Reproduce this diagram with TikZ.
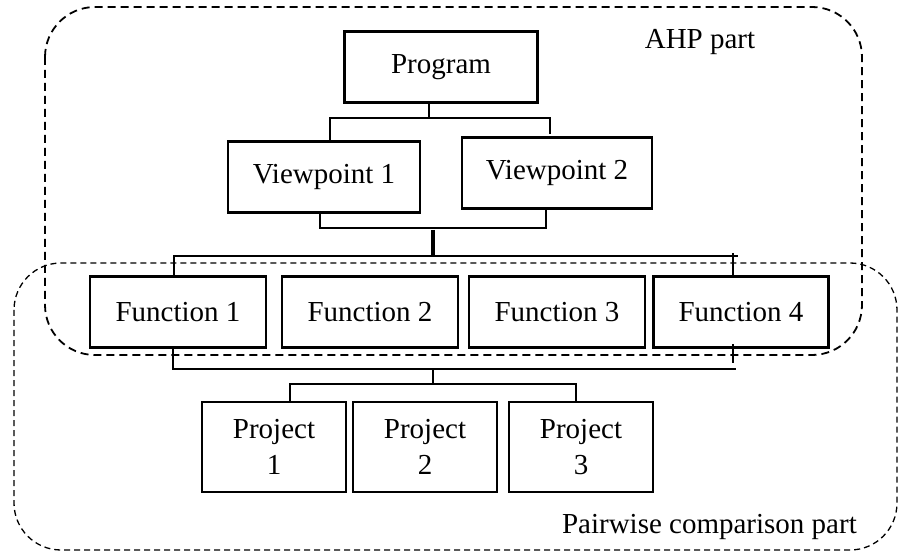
\documentclass[tikz,border=0pt]{standalone}
\usepackage{fontspec}
\setmainfont{Liberation Serif}
\usetikzlibrary{positioning}

\begin{document}
\begin{tikzpicture}[x=1pt,y=-1pt]
   \tikzstyle{box}=[draw,line width=2.6pt,minimum height=71pt,inner sep=0pt,font=\fontsize{29}{36}\selectfont]
   \tikzstyle{proj}=[box,minimum width=144pt,minimum height=90pt,align=center]
   \tikzstyle{ln}=[line width=1.3pt]
   \tikzstyle{bold}=[line width=4pt]
   \tikzstyle{part}=[line width=1.8pt,rounded corners=50pt,dash pattern=on 8pt off 5pt]
   \tikzstyle{lbl}=[inner sep=0pt,font=\fontsize{29}{34}\selectfont]

   \useasboundingbox (0,0) rectangle (911,556);

   % the two parts of the method
   \draw[part] (45,7) rectangle (862,355);
   \draw[part,line width=1.3pt,rounded corners=47pt,dash pattern=on 6pt off 4pt] (14,263) rectangle (897,550);
   \node (ahp) [lbl] at (700,42) {AHP part};
   \node (pw) [lbl,anchor=east] at (857,527) {Pairwise comparison part};

   % hierarchy
   \node (prog) [box,minimum width=193pt] at (441,67) {Program};
   \node (vp1) [box,minimum width=192pt] at (324,177) {Viewpoint 1};
   \node (vp2) [box,minimum width=190pt] at (557,173) {Viewpoint 2};
   \node (f1) [box,minimum width=176pt] at (178,312) {Function 1};
   \node (f2) [box,minimum width=176pt] at (370,312) {Function 2};
   \node (f3) [box,minimum width=176pt] at (557,312) {Function 3};
   \node (f4) [box,minimum width=175pt] at (741,312) {Function 4};
   \node (p1) [proj] at (274,447) {Project\\1};
   \node (p2) [proj] at (425,447) {Project\\2};
   \node (p3) [proj] at (581,447) {Project\\3};

   % connectors
   \coordinate (b1l) at (330,118);
   \coordinate (b1r) at (550,118);
   \draw[ln] ([xshift=-12pt]prog.south) -- ([xshift=-12pt]prog.south |- b1l);
   \draw[ln] (vp1.north -| b1l) -- (b1l) -- (b1r) -- ++(0,16);

   \coordinate (b2l) at (320,228);
   \coordinate (b2r) at (546,228);
   \coordinate (b3c) at (433,256);
   \draw[ln] ([yshift=3pt]vp1.south -| b2l) -- (b2l) -- (b2r) -- (vp2.south -| b2r);
   \draw[bold] ([yshift=-2pt]b2l -| b3c) -- (b3c);

   \coordinate (b3l) at (174,256);
   \coordinate (b3r) at (738,256);
   \coordinate (t3) at (733,253);
   \draw[ln] (f1.north -| b3l) -- (b3l) -- (b3r);
   \draw[ln] (t3) -- (t3 |- f4.north);

   \coordinate (b4l) at (173,369);
   \coordinate (b4r) at (736,369);
   \coordinate (t4) at (733,344);
   \coordinate (b5c) at (433,384);
   \draw[ln] (f1.south -| b4l) -- (b4l) -- (b4r);
   \draw[ln] (t4) -- ++(0,19);
   \draw[ln] (b5c |- b4l) -- (b5c);

   \coordinate (b5l) at (290,384);
   \coordinate (b5r) at (576,384);
   \draw[ln] (p1.north -| b5l) -- (b5l) -- (b5r) -- (p3.north -| b5r);
\end{tikzpicture}
\end{document}
